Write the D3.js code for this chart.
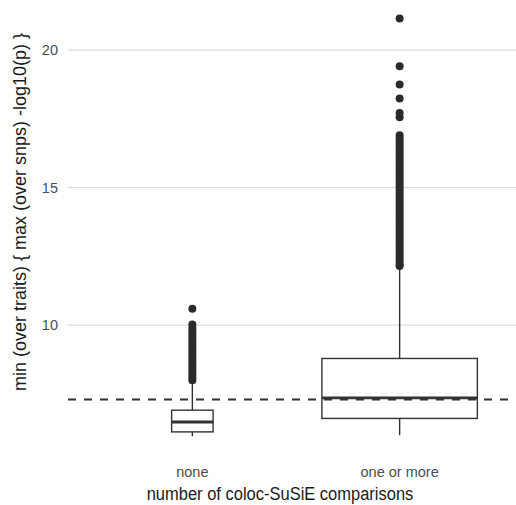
<!DOCTYPE html>
<html lang="en">
<head>
    <meta charset="UTF-8">
    <title>Coloc-SuSiE boxplot</title>
    <script src="https://cdn.jsdelivr.net/npm/d3@7"></script>
    <style>
        body {
            margin: 0;
            background: #fff;
            font-family: "Liberation Sans", Arial, sans-serif;
        }
    </style>
</head>
<body>
    <div id="chart"></div>

    <script>
        // categories and five-number summaries
        const groups = ['none', 'one or more'];
        const lowerWhisker = [5.96, 6.0];
        const q1 = [6.12, 6.61];
        const median = [6.48, 7.36];
        const q3 = [6.91, 8.79];
        const upperWhisker = [7.89, 12.05];
        // relative box widths (varwidth)
        const boxWidth = [0.2, 0.75];

        const outliersNone = [10.6, 10.03, 9.9, 9.8, 9.7, 9.6, 9.5, 9.4, 9.3, 9.2, 9.1,
            9.0, 8.9, 8.8, 8.7, 8.6, 8.5, 8.4, 8.3, 8.2, 8.1, 8.0];
        const outliersMore = [21.15, 19.42, 18.75, 18.24, 17.72, 17.56, 16.91, 16.8, 16.7,
            16.6, 16.5, 16.4, 16.3, 16.2, 16.1, 16.0, 15.9, 15.8, 15.7, 15.6, 15.5, 15.4,
            15.3, 15.2, 15.1, 15.0, 14.9, 14.8, 14.7, 14.6, 14.5, 14.4, 14.3, 14.2, 14.1,
            14.0, 13.9, 13.8, 13.7, 13.6, 13.5, 13.4, 13.3, 13.2, 13.1, 13.0, 12.9, 12.8,
            12.7, 12.6, 12.5, 12.4, 12.3, 12.2, 12.15];
        const outliers = [outliersNone, outliersMore];

        const yTicks = [10, 15, 20];
        const threshold = 7.3;

        const width = 516;
        const height = 505;
        const margin = {left: 68, right: 0};

        const svg = d3.select('#chart')
            .append('svg')
            .attr('width', width)
            .attr('height', height);

        const x = d3.scalePoint()
            .domain(groups)
            .range([margin.left, 524])
            .padding(0.6);
        const step = x.step();

        const y = d3.scaleLinear()
            .domain([5.2, 21.9])
            .range([457.2, -2.05]);

        // horizontal grid
        svg.append('g')
            .selectAll('line')
            .data(yTicks)
            .enter()
            .append('line')
            .attr('x1', margin.left)
            .attr('x2', width)
            .attr('y1', d => y(d))
            .attr('y2', d => y(d))
            .attr('stroke', '#dcdcdc')
            .attr('stroke-width', 1.3);

        // y tick labels
        svg.append('g')
            .selectAll('text')
            .data(yTicks)
            .enter()
            .append('text')
            .attr('x', 58)
            .attr('y', d => y(d))
            .attr('dy', '0.36em')
            .attr('text-anchor', 'end')
            .attr('fill', '#4d4d4d')
            .attr('font-size', 14.5)
            .text(d => d);

        const boxes = svg.append('g')
            .selectAll('g')
            .data(groups.map((g, i) => ({g, i})))
            .enter()
            .append('g');

        // whiskers
        boxes.append('line')
            .attr('x1', d => x(d.g))
            .attr('x2', d => x(d.g))
            .attr('y1', d => y(upperWhisker[d.i]))
            .attr('y2', d => y(q3[d.i]))
            .attr('stroke', '#333')
            .attr('stroke-width', 1.4);
        boxes.append('line')
            .attr('x1', d => x(d.g))
            .attr('x2', d => x(d.g))
            .attr('y1', d => y(q1[d.i]))
            .attr('y2', d => y(lowerWhisker[d.i]))
            .attr('stroke', '#333')
            .attr('stroke-width', 1.4);

        // box
        boxes.append('rect')
            .attr('x', d => x(d.g) - boxWidth[d.i] * step / 2)
            .attr('width', d => boxWidth[d.i] * step)
            .attr('y', d => y(q3[d.i]))
            .attr('height', d => y(q1[d.i]) - y(q3[d.i]))
            .attr('fill', '#fff')
            .attr('stroke', '#333')
            .attr('stroke-width', 1.4);

        // median
        boxes.append('line')
            .attr('x1', d => x(d.g) - boxWidth[d.i] * step / 2)
            .attr('x2', d => x(d.g) + boxWidth[d.i] * step / 2)
            .attr('y1', d => y(median[d.i]))
            .attr('y2', d => y(median[d.i]))
            .attr('stroke', '#333')
            .attr('stroke-width', 2.8);

        // outliers
        boxes.each(function(d) {
            d3.select(this).selectAll('circle')
                .data(outliers[d.i])
                .enter()
                .append('circle')
                .attr('cx', x(d.g))
                .attr('cy', v => y(v))
                .attr('r', 4)
                .attr('fill', '#2b2b2b');
        });

        // genome-wide significance line
        svg.append('line')
            .attr('x1', margin.left)
            .attr('x2', width)
            .attr('y1', y(threshold))
            .attr('y2', y(threshold))
            .attr('stroke', '#333')
            .attr('stroke-width', 2)
            .attr('stroke-dasharray', '8,8');

        // x tick labels
        svg.append('g')
            .selectAll('text')
            .data(groups)
            .enter()
            .append('text')
            .attr('x', d => x(d))
            .attr('y', 477)
            .attr('text-anchor', 'middle')
            .attr('fill', '#4d4d4d')
            .attr('font-size', 14.5)
            .text(d => d);

        // axis titles
        svg.append('text')
            .attr('transform', 'translate(280,500) scale(1,1.1)')
            .attr('text-anchor', 'middle')
            .attr('fill', '#1a1a1a')
            .attr('font-size', 16.5)
            .text('number of coloc-SuSiE comparisons');

        svg.append('text')
            .attr('transform', 'translate(20,212) rotate(-90)')
            .attr('dy', '0.35em')
            .attr('text-anchor', 'middle')
            .attr('fill', '#1a1a1a')
            .attr('font-size', 18)
            .text('min (over traits) { max (over snps) -log10(p) }');
    </script>
</body>
</html>
